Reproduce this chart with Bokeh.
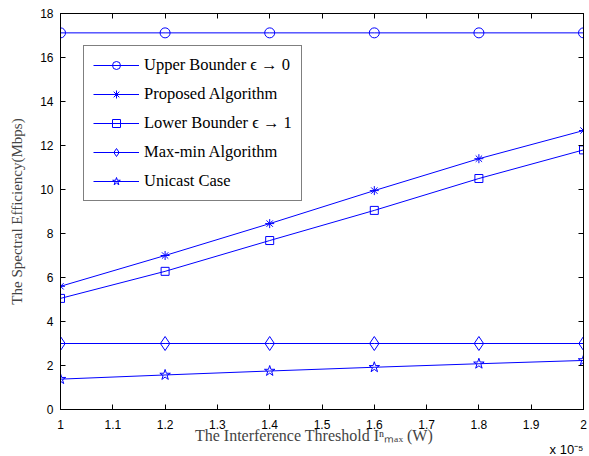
from bokeh.plotting import figure
from bokeh.models import (LinearAxis, FixedTicker, CustomJSTickFormatter, Range1d,
                          Title, Legend, LegendItem)
from bokeh.embed import file_html
from bokeh.resources import INLINE

# ---------------- data ----------------
x_vals = [1.0, 1.2, 1.4, 1.6, 1.8, 2.0]          # interference threshold (x 1e-5 W)
upper_bound = [17.12, 17.12, 17.12, 17.12, 17.12, 17.12]
proposed = [5.6, 7.0, 8.45, 9.95, 11.4, 12.68]
lower_bound = [5.05, 6.28, 7.68, 9.05, 10.5, 11.8]
max_min = [3.0, 3.0, 3.0, 3.0, 3.0, 3.0]
unicast = [1.38, 1.57, 1.75, 1.92, 2.08, 2.23]

x_ticks = [1.0, 1.1, 1.2, 1.3, 1.4, 1.5, 1.6, 1.7, 1.8, 1.9, 2.0]
y_ticks = [0, 2, 4, 6, 8, 10, 12, 14, 16, 18]

series_names = ["Upper Bounder \u03f5 \u2192 0", "Proposed Algorithm",
                "Lower Bounder \u03f5 \u2192 1", "Max-min Algorithm", "Unicast Case"]
series_values = [upper_bound, proposed, lower_bound, max_min, unicast]
series_markers = ["circle", "asterisk", "square", "diamond", "star"]
series_sizes = [10, 9, 8, 14, 11]

BLUE = "#0000ff"
SERIF = "Liberation Serif"
SANS = "Liberation Sans"

p = figure(width=589, height=456, x_range=Range1d(1, 2), y_range=Range1d(0, 18),
           output_backend="svg", toolbar_location=None,
           min_border_left=60, min_border_right=6, min_border_top=13,
           min_border_bottom=47)
p.grid.visible = False
p.outline_line_color = "black"
p.outline_line_width = 1
p.background_fill_color = "white"
p.border_fill_color = "white"

fmt = CustomJSTickFormatter(code="return String(Math.round(tick*10)/10);")
blank_fmt = CustomJSTickFormatter(code="return '';")


def style_axis(ax, ticks, show_labels):
    ax.ticker = FixedTicker(ticks=ticks)
    ax.axis_line_color = "black"
    ax.major_tick_line_color = "black"
    ax.major_tick_in = 5
    ax.major_tick_out = 0
    ax.minor_tick_line_color = None
    if show_labels:
        ax.major_label_text_font = SANS
        ax.major_label_text_font_size = "12px"
        ax.major_label_text_color = "black"
    else:
        ax.formatter = blank_fmt
        ax.major_label_standoff = 0


xa = p.xaxis[0]
style_axis(xa, x_ticks, True)
xa.formatter = fmt
xa.major_label_standoff = 10
xa.axis_label = "The Interference Threshold I\u207f\u2098\u2090\u2093 (W)\u00a0\u00a0\u00a0\u00a0"
xa.axis_label_text_font = SERIF
xa.axis_label_text_font_size = "16px"
xa.axis_label_text_font_style = "normal"
xa.axis_label_standoff = -5

ya = p.yaxis[0]
style_axis(ya, y_ticks, True)
ya.major_label_standoff = 7
ya.axis_label = "The Spectral Efficiency(Mbps)"
ya.axis_label_text_font = SERIF
ya.axis_label_text_font_size = "15px"
ya.axis_label_text_font_style = "normal"
ya.axis_label_standoff = 12

top_ax = LinearAxis()
style_axis(top_ax, x_ticks, False)
p.add_layout(top_ax, "above")
right_ax = LinearAxis()
style_axis(right_ax, y_ticks, False)
p.add_layout(right_ax, "right")

items = []
for name, vals, mk, sz in zip(series_names, series_values, series_markers, series_sizes):
    r1 = p.line(x_vals, vals, line_color=BLUE, line_width=1)
    r2 = p.scatter(x_vals, vals, marker=mk, size=sz, line_color=BLUE,
                   fill_color=None, line_width=1)
    items.append(LegendItem(label=name, renderers=[r1, r2]))

legend = Legend(items=items, location=(23, 208), glyph_width=46, glyph_height=20,
                label_height=20, label_standoff=5, padding=9, spacing=9, margin=0)
legend.label_text_font = SERIF
legend.label_text_font_size = "16.5px"
legend.label_text_color = "black"
legend.border_line_color = "black"
legend.border_line_width = 1
legend.background_fill_color = "white"
legend.background_fill_alpha = 1
p.add_layout(legend, "center")

# axis multiplier "x 10^-5" below the right end of the x axis
exp_title = Title(text="x 10\u207b\u2075", align="right", standoff=-9,
                  text_font=SANS, text_font_size="13px", text_font_style="normal",
                  text_color="black", vertical_align="top")
p.add_layout(exp_title, "below")

open("out.html", "w").write(file_html(p, INLINE))
